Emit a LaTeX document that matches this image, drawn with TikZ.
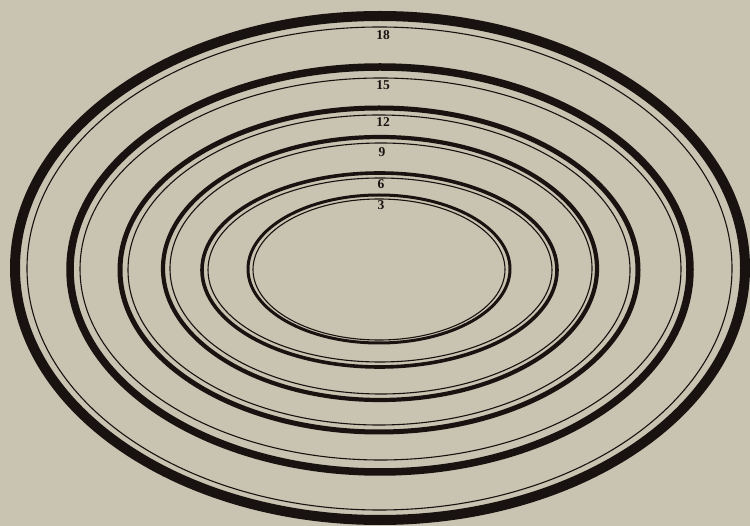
\documentclass[tikz,border=0pt]{standalone}
\usepackage{fontspec}
\setmainfont{Liberation Serif}
\definecolor{paper}{RGB}{200,196,177}
\definecolor{ink}{RGB}{24,19,16}
\begin{document}
\begin{tikzpicture}[x=1pt,y=-1pt,
  thickring/.style={draw=ink},
  thinring/.style={draw=ink,line width=1.1pt},
  lbl/.style={text=ink,font=\fontsize{13.5}{15}\selectfont\bfseries,inner sep=0pt}]
\fill[paper] (0,0) rectangle (750,526);
\useasboundingbox (0,0) rectangle (750,526);
% ring 18
\draw[thickring,line width=10pt] (380,268) ellipse [x radius=365pt, y radius=252pt];
\draw[thinring] (379.5,268.5) ellipse [x radius=352.5pt, y radius=241.5pt];
% ring 15
\draw[thickring,line width=7.5pt] (380,269.5) ellipse [x radius=310pt, y radius=202.5pt];
\draw[thinring] (380.5,269) ellipse [x radius=300.5pt, y radius=191pt];
% ring 12
\draw[thickring,line width=5pt] (379,270) ellipse [x radius=259pt, y radius=162pt];
\draw[thinring] (379,270) ellipse [x radius=251pt, y radius=155pt];
% ring 9
\draw[thickring,line width=4.2pt] (380,268.5) ellipse [x radius=217pt, y radius=131.5pt];
\draw[thinring] (381,268.5) ellipse [x radius=211pt, y radius=125.5pt];
% ring 6
\draw[thickring,line width=3.6pt] (379.5,270) ellipse [x radius=177.5pt, y radius=97pt];
\draw[thinring] (380,270) ellipse [x radius=172pt, y radius=92pt];
% ring 3
\draw[thickring,line width=3pt] (379,269) ellipse [x radius=131pt, y radius=74pt];
\draw[thinring] (379,269.5) ellipse [x radius=126pt, y radius=70.5pt];
% labels
\node[lbl] (l18) at (383,35.5) {18};
\node[lbl] (l15) at (383,85) {15};
\node[lbl] (l12) at (383,122) {12};
\node[lbl] (l9) at (382,152) {9};
\node[lbl] (l6) at (381,184) {6};
\node[lbl] (l3) at (381,205) {3};
\end{tikzpicture}
\end{document}
